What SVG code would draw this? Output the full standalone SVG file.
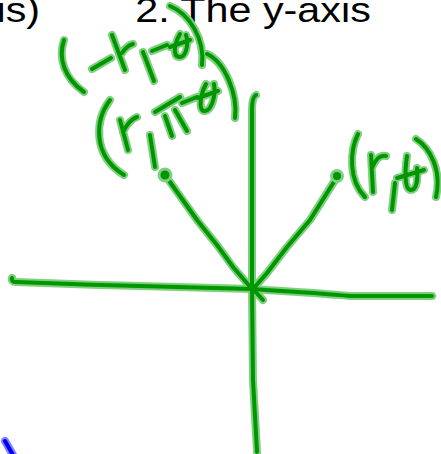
<svg xmlns="http://www.w3.org/2000/svg" xmlns:xlink="http://www.w3.org/1999/xlink" width="441" height="454" viewBox="0 0 441 454">
<style>
.txt{font-family:"Liberation Sans",Arial,sans-serif;font-size:35px;fill:#000}
.ink path{fill:none;stroke-linecap:round;stroke-linejoin:round}
.halo{stroke:#7fcf7f;stroke-width:8}
.core{stroke:#009600;stroke-width:4}
.dot{fill:#009600;stroke:#7fcf7f;stroke-width:3}
</style>
<defs>
<g id="sketch" class="ink">
<g id="axes">
<path d="M12,278 Q11,282 16,282 C40,283 100,285 140,286 C180,287 220,288 252,289 C300,292 330,294 350,296 L432,296"/>
<path d="M256,95 Q252,97 252,110 L252,289 L253,380 L257,452"/>
</g>
<g id="rays">
<path d="M165,175 L197,220 L217,245 L233,267 L252,289"/>
<path d="M337,177 L310,220 L287,247 L267,273 L253,289 L263,300"/>
</g>
<g id="label-r-theta">
<path d="M358,134 C350,150 348,180 365,197"/>
<path d="M371,155 L373,192 M372,168 C376,158 380,155 386,156"/>
<path d="M395,183 L392,210"/>
<path d="M407,156 C405,170 404,190 411,190 C417,190 418,178 417,168 M397,178 L424,170"/>
<path d="M416,139 C430,148 442,170 436,197"/>
</g>
<g id="label-minus-r-minus-theta">
<path d="M64,40 C58,58 64,78 84,92"/>
<path d="M92,69 L111,58"/>
<path d="M112,35 L125,70 M122,53 C126,47 129,45 133,44"/>
<path d="M143,52 L154,81"/>
<path d="M152,51 L167,45"/>
<path d="M180,34 C175,42 172,56 179,57 C186,58 189,44 186,35 M170,47 L190,40"/>
<path d="M170,6 C190,14 205,40 202,65"/>
</g>
<g id="label-r-pi-minus-theta">
<path d="M110,100 C95,120 92,155 124,175"/>
<path d="M120,120 L128,150 M123,132 C127,124 131,119 137,117"/>
<path d="M150,135 L155,167"/>
<path d="M155,112 L180,97 M165,116 L172,136 M175,110 L187,131"/>
<path d="M182,103 L197,97"/>
<path d="M206,84 C200,95 198,112 205,111 C212,110 216,95 214,84 M198,98 L218,91"/>
<path d="M207,54 C225,62 238,95 235,118"/>
</g>
</g>
</defs>
<g id="heading">
<g transform="scale(1.18,1)">
<text class="txt" x="-3" y="22">is)</text>
<text class="txt" x="114.6" y="22">2. The y-axis</text>
</g>
</g>
<use xlink:href="#sketch" class="halo"/>
<use xlink:href="#sketch" class="core"/>
<g id="dots">
<circle class="dot" cx="165" cy="175" r="6"/>
<circle class="dot" cx="337" cy="176" r="5.5"/>
</g>
<g id="blue-mark">
<path d="M5,441 L13,455" fill="none" stroke="#8080ff" stroke-width="8" stroke-linecap="round"/>
<path d="M5,441 L13,455" fill="none" stroke="#0000ee" stroke-width="4" stroke-linecap="round"/>
</g>
</svg>
